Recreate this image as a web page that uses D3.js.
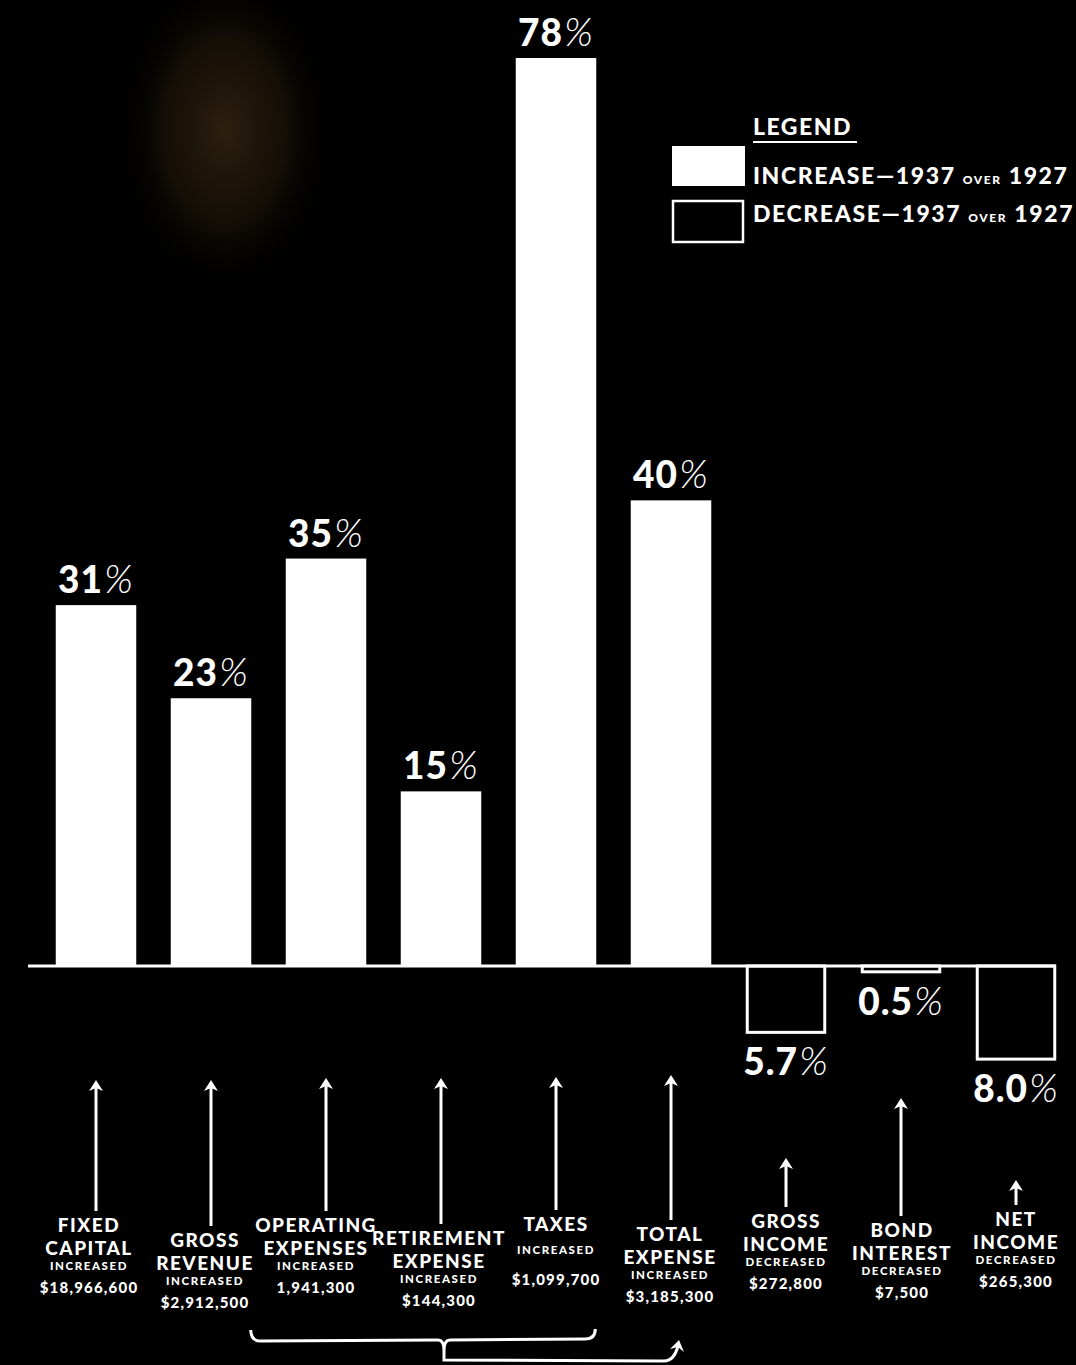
<!DOCTYPE html>
<html>
<head>
<meta charset="utf-8">
<script src="https://cdn.jsdelivr.net/npm/d3@7"></script>
<style>
	body { margin: 0; background: #000; }
	svg { display: block; }
	text { font-family: Lato, "DejaVu Sans", sans-serif; fill: #fff; }
</style>
</head>
<body>
<div id="wrapper"></div>
<script>

// data
const categories = ["FIXED CAPITAL", "GROSS REVENUE", "OPERATING EXPENSES", "RETIREMENT EXPENSE", "TAXES", "TOTAL EXPENSE", "GROSS INCOME", "BOND INTEREST", "NET INCOME"];
const nameLines = [["FIXED", "CAPITAL"], ["GROSS", "REVENUE"], ["OPERATING", "EXPENSES"], ["RETIREMENT", "EXPENSE"], ["TAXES"], ["TOTAL", "EXPENSE"], ["GROSS", "INCOME"], ["BOND", "INTEREST"], ["NET", "INCOME"]];
const values = [31, 23, 35, 15, 78, 40, -5.7, -0.5, -8.0];
const valueLabels = ["31", "23", "35", "15", "78", "40", "5.7", "0.5", "8.0"];
const changeWords = ["INCREASED", "INCREASED", "INCREASED", "INCREASED", "INCREASED", "INCREASED", "DECREASED", "DECREASED", "DECREASED"];
const amounts = ["$18,966,600", "$2,912,500", "1,941,300", "$144,300", "$1,099,700", "$3,185,300", "$272,800", "$7,500", "$265,300"];
const legendLabels = ["INCREASE", "DECREASE"];

// layout of the caption blocks under the chart
const captionTop = [1232, 1247, 1232, 1245, 1231, 1241, 1228, 1237, 1226];
const captionShift = [-7, -6, -10, -2, 0, -1, 0, 1, 0];
const arrowTop = [1080, 1080, 1078, 1078, 1077, 1075, 1158, 1098, 1180];

const width = 1076, height = 1365;

const svg = d3.select("#wrapper")
	.append("svg")
	.attr("width", width)
	.attr("height", height);

// faint brown glow, upper left (photo of the original)
const defs = svg.append("defs");
const glow = defs.append("radialGradient").attr("id", "glow");
glow.append("stop").attr("offset", "0%").attr("stop-color", "#4a3519").attr("stop-opacity", 0.6);
glow.append("stop").attr("offset", "55%").attr("stop-color", "#33240f").attr("stop-opacity", 0.4);
glow.append("stop").attr("offset", "100%").attr("stop-color", "#000").attr("stop-opacity", 0);

svg.append("rect").attr("width", width).attr("height", height).attr("fill", "#000");
svg.append("ellipse")
	.attr("cx", 225).attr("cy", 130)
	.attr("rx", 110).attr("ry", 165)
	.attr("fill", "url(#glow)");

// scales
const x = d3.scaleBand()
	.domain(categories)
	.range([38.5, 1073.5])
	.paddingInner(0.3)
	.paddingOuter(0.15);

const y = d3.scaleLinear()
	.domain([0, 78])
	.range([966, 58]);

const rows = categories.map((c, i) => ({
	cat: c, value: values[i], label: valueLabels[i], lines: nameLines[i],
	word: changeWords[i], amount: amounts[i], top: captionTop[i],
	shift: captionShift[i], arrow: arrowTop[i]
}));

// bars
svg.append("g")
	.selectAll("rect")
	.data(rows)
	.join("rect")
	.attr("x", d => x(d.cat) + (d.value < 0 ? 1.5 : 0))
	.attr("width", d => x.bandwidth() - (d.value < 0 ? 3 : 0))
	.attr("y", d => d.value >= 0 ? y(d.value) : y(0))
	.attr("height", d => Math.abs(y(d.value) - y(0)))
	.attr("fill", d => d.value >= 0 ? "#fff" : "#000")
	.attr("stroke", d => d.value >= 0 ? "none" : "#fff")
	.attr("stroke-width", 3);

// baseline
svg.append("line")
	.attr("x1", 28).attr("x2", 1056)
	.attr("y1", y(0)).attr("y2", y(0))
	.attr("stroke", "#fff")
	.attr("stroke-width", 3);

// value labels
const valText = svg.append("g")
	.selectAll("text")
	.data(rows)
	.join("text")
	.attr("x", d => x(d.cat) + x.bandwidth() / 2)
	.attr("y", d => d.value >= 0 ? y(d.value) - 12 : y(d.value) + 43)
	.attr("text-anchor", "middle")
	.style("font-size", "37px")
	.style("font-weight", 900)
	.style("letter-spacing", "1px");
valText.append("tspan").text(d => d.label);
valText.append("tspan")
	.style("font-weight", 300)
	.style("font-style", "italic")
	.style("font-size", "40px")
	.attr("dx", 1)
	.text("%");

// arrows and captions
const cap = svg.append("g")
	.selectAll("g")
	.data(rows)
	.join("g")
	.attr("transform", d => `translate(${x(d.cat) + x.bandwidth() / 2},0)`);

cap.append("line")
	.attr("y1", d => d.arrow + 4)
	.attr("y2", d => d.top - 21)
	.attr("stroke", "#fff")
	.attr("stroke-width", 3);
cap.append("path")
	.attr("d", d => `M0,${d.arrow} L-7,${d.arrow + 11} L0,${d.arrow + 8} L7,${d.arrow + 11} Z`)
	.attr("fill", "#fff");

cap.each(function(d) {
	const g = d3.select(this);
	d.lines.forEach((ln, k) => {
		g.append("text")
			.attr("x", d.shift)
			.attr("y", d.top + k * 23)
			.attr("text-anchor", "middle")
			.style("font-size", "19px")
			.style("font-weight", 900)
			.style("letter-spacing", "1.5px")
			.text(ln);
	});
	const extra = d.lines.length === 1 ? 8 : 0;
	const wy = d.top + (d.lines.length - 1) * 23 + 15 + extra;
	g.append("text")
		.attr("x", d.shift)
		.attr("y", wy)
		.attr("text-anchor", "middle")
		.style("font-size", "11.5px")
		.style("font-weight", 900)
		.style("letter-spacing", "1.6px")
		.text(d.word);
	g.append("text")
		.attr("x", d.shift)
		.attr("y", wy + 23 + extra)
		.attr("text-anchor", "middle")
		.style("font-size", "15px")
		.style("font-weight", 900)
		.style("letter-spacing", "1.2px")
		.text(d.amount);
});

// brace grouping operating, retirement, taxes -> total expense
const bx0 = x("OPERATING EXPENSES") - 35;
const bx1 = x("TAXES") + x.bandwidth() - 1;
const bmid = (x("RETIREMENT EXPENSE") + x.bandwidth() / 2) + 3;
const tx = x("TOTAL EXPENSE") + x.bandwidth() / 2 + 7;
svg.append("path")
	.attr("d", `M${bx0},1330 Q${bx0},1341 ${bx0 + 10},1341 L${bmid - 6},1340 Q${bmid},1340 ${bmid},1350 Q${bmid},1340 ${bmid + 6},1340 L${bx1 - 10},1339 Q${bx1},1339 ${bx1},1329`)
	.attr("fill", "none")
	.attr("stroke", "#fff")
	.attr("stroke-width", 3);
svg.append("path")
	.attr("d", `M${bmid},1350 L${bmid},1360 L${tx - 14},1361 Q${tx - 4},1361 ${tx},1346`)
	.attr("fill", "none")
	.attr("stroke", "#fff")
	.attr("stroke-width", 3);
svg.append("path")
	.attr("d", `M${tx + 1},1340 L${tx - 8},1349 L${tx},1347 L${tx + 6},1352 Z`)
	.attr("fill", "#fff");

// legend
const legend = svg.append("g");
legend.append("text")
	.attr("x", 753).attr("y", 135)
	.style("font-size", "23px")
	.style("font-weight", 900)
	.style("letter-spacing", "1.5px")
	.text("LEGEND");
legend.append("line")
	.attr("x1", 753).attr("x2", 857)
	.attr("y1", 142).attr("y2", 142)
	.attr("stroke", "#fff").attr("stroke-width", 2);

legendLabels.forEach((lab, i) => {
	const ly = 146 + i * 54;
	legend.append("rect")
		.attr("x", i ? 673 : 672).attr("y", i ? ly + 1 : ly)
		.attr("width", i ? 70 : 73).attr("height", i ? 41 : 40)
		.attr("fill", i ? "#000" : "#fff")
		.attr("stroke", i ? "#fff" : "none")
		.attr("stroke-width", 2.5);
	const t = legend.append("text")
		.attr("x", 753).attr("y", ly + 38 - i * 16)
		.style("font-size", "23px")
		.style("font-weight", 900)
		.style("letter-spacing", "1.6px");
	t.append("tspan").text(lab + "\u20141937 ");
	t.append("tspan").style("font-size", "12px").text("OVER");
	t.append("tspan").text(" 1927");
});

</script>
</body>
</html>
